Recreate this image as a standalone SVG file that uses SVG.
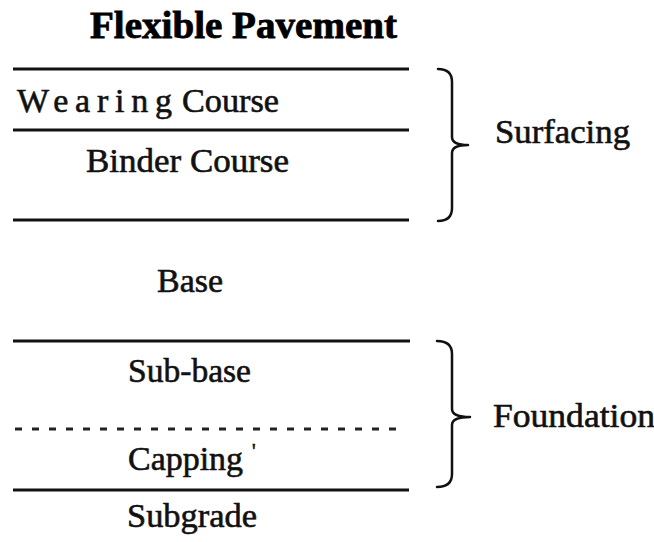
<svg xmlns="http://www.w3.org/2000/svg" width="654" height="542" viewBox="0 0 654 542">
  <style>
    .bg { fill: #ffffff; }
    .rule { stroke: #111; stroke-width: 3; fill: none; }
    .dash { stroke: #222; stroke-width: 3; stroke-dasharray: 7 10; fill: none; }
    .brace { stroke: #111; stroke-width: 2.5; fill: none; stroke-linejoin: round; stroke-linecap: round; }
  </style>
  <rect class="bg" x="0" y="0" width="654" height="542"/>

  <g id="title" font-family="Liberation Serif, DejaVu Serif, serif" font-size="38" font-weight="bold" fill="#000" stroke="#000" stroke-width="0.8">
    <text x="90" y="38" textLength="307" lengthAdjust="spacingAndGlyphs">Flexible Pavement</text>
  </g>

  <!-- layer boundaries and braces -->
  <g id="connectors">
    <line class="rule" x1="13" y1="69" x2="409" y2="69"/>
    <line class="rule" x1="13" y1="130" x2="409" y2="130"/>
    <line class="rule" x1="13" y1="220" x2="409" y2="220"/>
    <line class="rule" x1="13" y1="341" x2="410" y2="341"/>
    <line class="dash" x1="15" y1="429" x2="398" y2="429"/>
    <line class="rule" x1="13" y1="490" x2="409" y2="490"/>
    <path class="brace" d="M438,69 Q452,69 452,82 L452,137 Q452,145 468,145 Q452,145 452,153 L452,208 Q452,221 438,221"/>
    <path class="brace" d="M437,341 Q452,341 452,354 L452,409 Q452,417 470,417 Q452,417 452,425 L452,474 Q452,487 437,487"/>
  </g>

  <g id="labels" font-family="Liberation Serif, DejaVu Serif, serif" font-size="34" fill="#111" stroke="#111" stroke-width="0.6">
    <g id="wearing-course">
      <text y="112"><tspan x="17" textLength="155" lengthAdjust="spacing">Wearing</tspan><tspan x="182" textLength="97" lengthAdjust="spacingAndGlyphs">Course</tspan></text>
    </g>
    <g id="binder-course">
      <text x="86" y="172" textLength="203" lengthAdjust="spacingAndGlyphs">Binder Course</text>
    </g>
    <g id="surfacing">
      <text x="495" y="143" textLength="135" lengthAdjust="spacingAndGlyphs">Surfacing</text>
    </g>
    <g id="base">
      <text x="157" y="292" textLength="66" lengthAdjust="spacingAndGlyphs">Base</text>
    </g>
    <g id="sub-base">
      <text x="128" y="382" textLength="123" lengthAdjust="spacingAndGlyphs">Sub-base</text>
    </g>
    <g id="capping">
      <text x="128" y="470" textLength="115" lengthAdjust="spacingAndGlyphs">Capping</text>
      <text x="252" y="458" font-size="20">'</text>
    </g>
    <g id="foundation">
      <text x="493" y="427" textLength="162" lengthAdjust="spacingAndGlyphs">Foundation</text>
    </g>
    <g id="subgrade">
      <text x="127" y="527" textLength="130" lengthAdjust="spacingAndGlyphs">Subgrade</text>
    </g>
  </g>
</svg>
